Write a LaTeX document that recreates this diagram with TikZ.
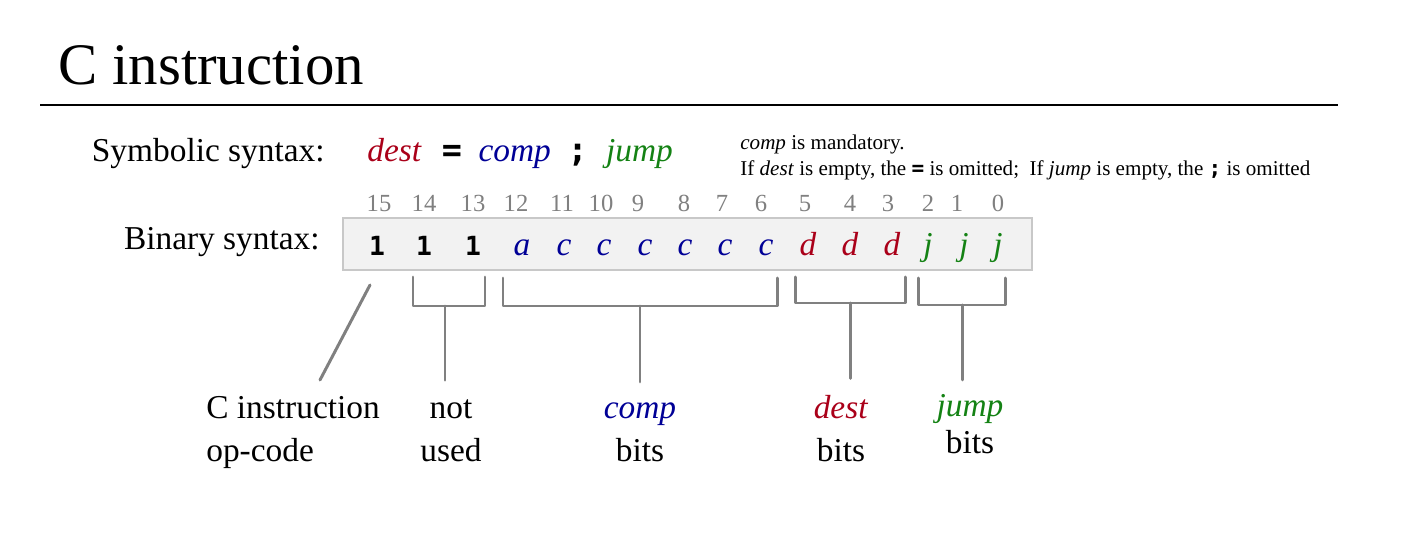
\documentclass[tikz,border=0pt]{standalone}
\usepackage{fontspec}
\setmainfont{Liberation Serif}
\setmonofont{DejaVu Sans Mono}
\usetikzlibrary{positioning}
\usepackage{xcolor}

\definecolor{destred}{RGB}{170,0,25}
\definecolor{compblue}{RGB}{0,0,150}
\definecolor{jumpgreen}{RGB}{20,130,20}
\definecolor{numgray}{RGB}{128,128,128}
\definecolor{boxfill}{RGB}{242,242,242}
\definecolor{boxline}{RGB}{200,200,200}

\newcommand{\fdest}{\textcolor{destred}{\textit{dest}}}
\newcommand{\fcomp}{\textcolor{compblue}{\textit{comp}}}
\newcommand{\fjump}{\textcolor{jumpgreen}{\textit{jump}}}
\newcommand{\tteq}{\texttt{\textbf{=}}}
\newcommand{\ttsemi}{\texttt{\textbf{;}}}

\begin{document}
\begin{tikzpicture}[x=0.02cm,y=-0.02cm]
    \tikzstyle{title} = [font=\fontsize{33.5}{40}\selectfont, inner sep=0pt, anchor=base west]
    \tikzstyle{big} = [font=\fontsize{19}{24}\selectfont, inner sep=0pt]
    \tikzstyle{note} = [font=\fontsize{12}{14}\selectfont, inner sep=0pt, anchor=base west]
    \tikzstyle{num} = [text=numgray, font=\fontsize{14}{16}\selectfont, inner sep=0pt, anchor=base]
    \tikzstyle{bit} = [font=\fontsize{19}{22}\selectfont, inner sep=0pt, anchor=base]
    \tikzstyle{lbl} = [big, align=center, anchor=north]
    \tikzstyle{brk} = [draw=numgray, line width=1.7pt, line cap=round, line join=round]

    \useasboundingbox (0,0) rectangle (1404,550);

    % Title and rule
    \node[title] (head) at (58,85) {C instruction};
    \draw[line width=1.7pt] (40,105) -- (1338,105);

    % Symbolic syntax
    \node[big, anchor=base east] (symb) at (325,162) {Symbolic syntax:};
    \node[big, anchor=base west] (symbform) at (367,162)
      {\fdest\hspace{0.6em}\tteq\hspace{0.5em}\fcomp\hspace{0.5em}\ttsemi\hspace{0.55em}\fjump};
    \node[note] (note1) at (740,150) {\textit{comp} is mandatory.};
    \node[note] (note2) at (740,176)
      {If \textit{dest} is empty, the \tteq{} is omitted;\ \ If \textit{jump} is empty, the \ttsemi{} is omitted};

    % Binary syntax
    \node[big, anchor=base east] (bin) at (320,250) {Binary syntax:};
    \draw[fill=boxfill, draw=boxline, line width=1pt] (343,218) rectangle (1032,270);

    \foreach \bx/\nx/\k/\txt in {
        377/379/15/{\fontsize{15}{18}\selectfont\texttt{\textbf{1}}},
        424/424/14/{\fontsize{15}{18}\selectfont\texttt{\textbf{1}}},
        473/473/13/{\fontsize{15}{18}\selectfont\texttt{\textbf{1}}},
        522/516/12/{\textcolor{compblue}{\textit{a}}},
        564/562/11/{\textcolor{compblue}{\textit{c}}},
        604/601/10/{\textcolor{compblue}{\textit{c}}},
        645/638/9/{\textcolor{compblue}{\textit{c}}},
        685/684/8/{\textcolor{compblue}{\textit{c}}},
        725/722/7/{\textcolor{compblue}{\textit{c}}},
        766/761/6/{\textcolor{compblue}{\textit{c}}},
        808/805/5/{\textcolor{destred}{\textit{d}}},
        850/850/4/{\textcolor{destred}{\textit{d}}},
        892/888/3/{\textcolor{destred}{\textit{d}}},
        928/928/2/{\textcolor{jumpgreen}{\textit{j}}},
        964/957/1/{\textcolor{jumpgreen}{\textit{j}}},
        998/998/0/{\textcolor{jumpgreen}{\textit{j}}}} {
      \node[num] (n\k) at (\nx,212) {\k};
      \node[bit] (b\k) at (\bx,256) {\txt};
    }

    % Field labels
    \node[big, align=left, anchor=north west] (opcode) at (206,389) {\strut C instruction\\op-code};
    \node[lbl] (unused) at (451,389) {\strut not\\used};
    \node[lbl] (compbits) at (640,389) {\strut\fcomp\\bits};
    \node[lbl] (destbits) at (841,389) {\strut\fdest\\bits};
    \node[lbl] (jumpbits) at (970,387) {\strut\fjump\\[-3pt]bits};

    % Brackets
    \coordinate (optop) at (370,285);
    \coordinate (opend) at (320,380);
    \draw[brk] (optop) -- (opend);

    \draw[brk] (413,277) -- (413,306) -- (485,306) -- (485,277);
    \coordinate (unusedmid) at (445,306);
    \draw[brk, shorten >=5pt] (unusedmid) -- (unusedmid |- unused.north);

    \draw[brk] (503,278) -- (503,306) -- (777,306) -- (777,278);
    \coordinate (compmid) at (640,306);
    \draw[brk, shorten >=4pt] (compmid) -- (compbits.north);

    \draw[brk] (795,277) -- (795,303) -- (905,303) -- (905,277);
    \coordinate (destmid) at (850,303);
    \draw[brk, shorten >=6pt] (destmid) -- (destmid |- destbits.north);

    \draw[brk] (918,278) -- (918,305) -- (1005,305) -- (1005,278);
    \coordinate (jumpmid) at (962,305);
    \draw[brk, shorten >=4pt] (jumpmid) -- (jumpmid |- jumpbits.north);

  \end{tikzpicture}
\end{document}
